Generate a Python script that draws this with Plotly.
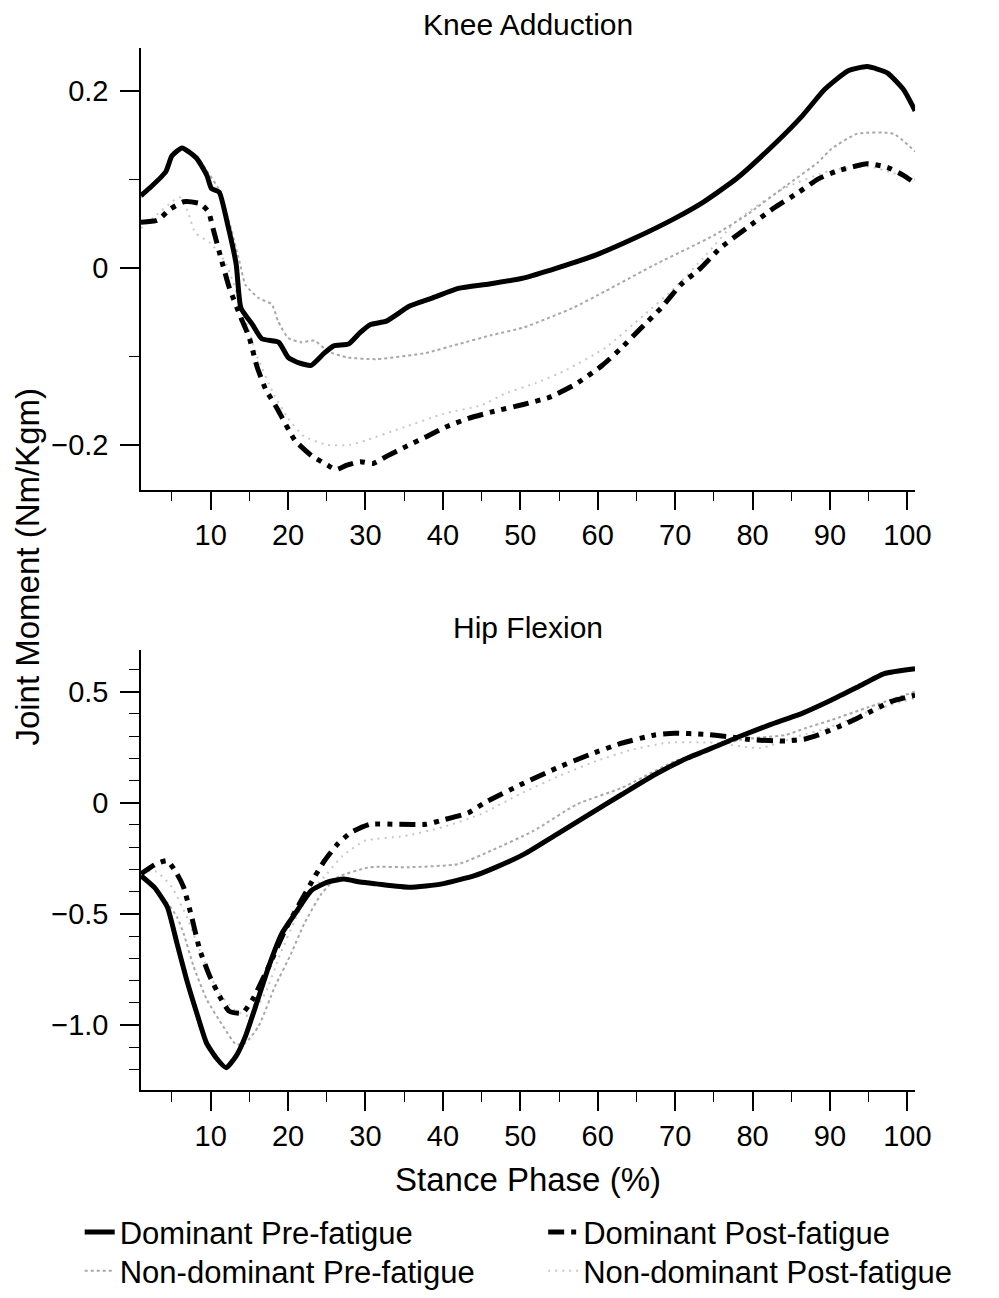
import plotly.graph_objects as go

# ---------------- data ----------------
# Knee Adduction
knee_dom_pre_x = [1, 2.3, 4.2, 5, 6.3, 8.2, 9.5, 10.1, 11.1, 12.2, 13.3, 13.9, 15.4, 16.6, 18.8, 20, 21.3, 23,
                  24.7, 25.9, 27.8, 29.3, 30.6, 32.7, 35.7, 38.6, 42, 46, 50.5, 54.7, 59.8, 64.8, 69.9, 73.7,
                  77.9, 82.2, 86.4, 89.3, 92.3, 94.8, 97.4, 99.5, 101]
knee_dom_pre_y = [0.082, 0.092, 0.109, 0.127, 0.136, 0.124, 0.105, 0.09, 0.086, 0.049, 0.004, -0.045, -0.064,
                  -0.080, -0.084, -0.101, -0.107, -0.110, -0.096, -0.088, -0.086, -0.073, -0.064, -0.060, -0.043,
                  -0.034, -0.023, -0.018, -0.011, 0.0, 0.015, 0.034, 0.056, 0.075, 0.101, 0.135, 0.172, 0.202,
                  0.223, 0.228, 0.221, 0.202, 0.178]

knee_dom_post_x = [1, 3.1, 4.8, 6.5, 8.6, 9.7, 10.3, 11.4, 12.4, 13.9, 15, 16, 17.1, 18.6, 20.9, 23, 25.1, 26.2,
                   27.6, 29.3, 31, 32.7, 35.2, 37.8, 40.3, 43.3, 46.2, 50.5, 53.8, 57.2, 60.6, 63.1, 65.7, 68.2,
                   70.7, 73.3, 75.8, 79.2, 82.6, 86, 88.5, 91, 94.8, 97.4, 99.5, 101]
knee_dom_post_y = [0.052, 0.054, 0.067, 0.075, 0.073, 0.064, 0.045, 0.009, -0.022, -0.056, -0.079, -0.112,
                   -0.137, -0.159, -0.195, -0.212, -0.223, -0.228, -0.223, -0.219, -0.221, -0.213, -0.202, -0.191,
                   -0.180, -0.170, -0.163, -0.154, -0.146, -0.131, -0.110, -0.090, -0.067, -0.045, -0.019, 0.0,
                   0.0225, 0.045, 0.067, 0.086, 0.101, 0.110, 0.118, 0.114, 0.105, 0.096]

knee_nd_pre_x = [1, 2.3, 4.2, 5, 6.3, 8.2, 9.5, 11, 12.3, 13.7, 14.5, 16.2, 17.9, 18.7, 20, 21.7, 23.4, 25.1,
                 27.6, 31.4, 37.8, 42, 46.2, 50.5, 56.8, 61, 67.4, 71.6, 75, 79.2, 84.3, 88.5, 90.2, 93.5, 98.2, 101]
knee_nd_pre_y = [0.08, 0.09, 0.11, 0.128, 0.137, 0.127, 0.11, 0.09, 0.055, 0.008, -0.019, -0.034, -0.041, -0.060,
                 -0.079, -0.084, -0.082, -0.094, -0.101, -0.103, -0.096, -0.086, -0.076, -0.067, -0.045, -0.026,
                 0.004, 0.022, 0.037, 0.06, 0.093, 0.12, 0.135, 0.152, 0.152, 0.132]

knee_nd_post_x = [1, 3, 5, 6, 7, 8, 10, 12, 14, 16, 18, 20, 22, 25, 28, 30, 35, 40, 45, 48, 52, 56, 61, 66, 70,
                  74, 78, 84, 90, 95, 98, 101]
knee_nd_post_y = [0.045, 0.06, 0.075, 0.08, 0.065, 0.04, 0.028, 0.005, -0.045, -0.1, -0.14, -0.17, -0.19, -0.2,
                  -0.2, -0.195, -0.18, -0.165, -0.155, -0.142, -0.13, -0.115, -0.09, -0.053, -0.022, 0.015,
                  0.054, 0.09, 0.11, 0.115, 0.108, 0.1]

# Hip Flexion
hip_dom_pre_x = [1, 2.7, 4.4, 5.65, 6.9, 8.2, 9.45, 10.7, 12, 13.3, 14.5, 15.8, 17.5, 19.2, 20.9, 23, 25.1, 27.2,
                 29.3, 31.4, 35.7, 39.9, 44.1, 46.2, 50.5, 54.7, 58.9, 63.1, 67.4, 71.6, 75.8, 78.3, 82.2, 86.4,
                 90.2, 93.6, 97, 101]
hip_dom_pre_y = [-0.328, -0.38, -0.469, -0.633, -0.797, -0.946, -1.08, -1.147, -1.192, -1.139, -1.05, -0.916,
                 -0.737, -0.588, -0.499, -0.395, -0.357, -0.343, -0.357, -0.365, -0.38, -0.365, -0.328, -0.30,
                 -0.231, -0.142, -0.052, 0.037, 0.127, 0.201, 0.261, 0.298, 0.35, 0.402, 0.462, 0.521, 0.581, 0.603]

hip_dom_post_x = [1, 2.9, 4.4, 5.65, 6.5, 7.55, 8.6, 9.9, 11.4, 12.4, 14.1, 15.4, 17.5, 19.6, 21.7, 23.4, 24.7,
                  26.4, 28.1, 30.6, 34.4, 37.8, 40.3, 43.3, 45.4, 50.5, 54.7, 58.9, 63.1, 67.4, 69.9, 73.7, 76.7,
                  80, 84.3, 86.8, 88.5, 91.9, 94.8, 97.8, 101]
hip_dom_post_y = [-0.32, -0.276, -0.261, -0.32, -0.38, -0.514, -0.663, -0.782, -0.886, -0.938, -0.946, -0.886,
                  -0.737, -0.574, -0.44, -0.335, -0.261, -0.186, -0.134, -0.097, -0.097, -0.097, -0.075, -0.045,
                  0.0, 0.089, 0.156, 0.216, 0.268, 0.305, 0.313, 0.308, 0.298, 0.283, 0.278, 0.287, 0.305, 0.353,
                  0.402, 0.454, 0.484]

hip_nd_pre_x = [1, 2.7, 4.4, 5.65, 6.5, 7.8, 9.5, 11.6, 13.3, 14.5, 16.2, 18.3, 20.4, 22.1, 24.3, 26.4, 30.6,
                35.7, 42, 46.2, 51.7, 57.3, 63.1, 69.9, 75, 78.3, 84.3, 86.8, 90, 95, 101]
hip_nd_pre_y = [-0.33, -0.38, -0.45, -0.514, -0.588, -0.737, -0.886, -1.005, -1.088, -1.08, -1.005, -0.827,
                -0.678, -0.543, -0.41, -0.335, -0.29, -0.29, -0.276, -0.216, -0.127, -0.007, 0.067, 0.186, 0.246,
                0.283, 0.305, 0.335, 0.37, 0.43, 0.5]

hip_nd_post_x = [1, 3, 5, 7, 9, 11, 13, 15, 17, 19, 21, 23, 25, 27, 30, 35, 40, 45, 50, 55, 60, 64.4, 69, 75,
                 81, 86, 90, 95, 101]
hip_nd_post_y = [-0.31, -0.31, -0.38, -0.52, -0.7, -0.85, -0.93, -0.96, -0.86, -0.68, -0.52, -0.4, -0.32, -0.24,
                 -0.17, -0.15, -0.11, -0.05, 0.04, 0.12, 0.19, 0.238, 0.27, 0.27, 0.246, 0.30, 0.34, 0.41, 0.47]

series_names = ["Dominant Pre-fatigue", "Dominant Post-fatigue",
                "Non-dominant Pre-fatigue", "Non-dominant Post-fatigue"]
panel_titles = ["Knee Adduction", "Hip Flexion"]
x_title = "Stance Phase (%)"
y_title = "Joint Moment (Nm/Kgm)"
x_tickvals = [10, 20, 30, 40, 50, 60, 70, 80, 90, 100]
knee_tickvals = [-0.2, 0, 0.2]
knee_ticktext = ["\u22120.2", "0", "0.2"]
hip_tickvals = [-1.0, -0.5, 0, 0.5]
hip_ticktext = ["\u22121.0", "\u22120.5", "0", "0.5"]

# ---------------- styling ----------------
W, H = 999, 1298
FONT = "Liberation Sans, Arial, Helvetica, sans-serif"
styles = [
    dict(color="black", width=5, dash="solid"),
    dict(color="black", width=5, dash="16px,7px,5px,7px,5px,7px"),
    dict(color="#a8a8a8", width=2, dash="3px,3px"),
    dict(color="#c8c8c8", width=2, dash="2px,5px"),
]

fig = go.Figure()
knee = [(knee_dom_pre_x, knee_dom_pre_y), (knee_dom_post_x, knee_dom_post_y),
        (knee_nd_pre_x, knee_nd_pre_y), (knee_nd_post_x, knee_nd_post_y)]
hip = [(hip_dom_pre_x, hip_dom_pre_y), (hip_dom_post_x, hip_dom_post_y),
       (hip_nd_pre_x, hip_nd_pre_y), (hip_nd_post_x, hip_nd_post_y)]
legends = ["legend", "legend2", "legend3", "legend4"]

# draw light lines first so black lines sit on top
order = [3, 2, 1, 0]
for i in order:
    x, y = knee[i]
    fig.add_trace(go.Scatter(x=x, y=y, mode="lines", line=dict(**styles[i], shape="spline", smoothing=0.5),
                             name=series_names[i], legend=legends[i], showlegend=True,
                             xaxis="x", yaxis="y"))
for i in order:
    x, y = hip[i]
    fig.add_trace(go.Scatter(x=x, y=y, mode="lines", line=dict(**styles[i], shape="spline", smoothing=0.5),
                             name=series_names[i], showlegend=False, xaxis="x2", yaxis="y2"))

def px_x(p):
    return p / W

def px_y(p):
    return 1 - p / H

x_dom = [px_x(143.3), px_x(930)]
axis_common = dict(showline=True, linecolor="black", linewidth=1.5, ticks="outside", ticklen=19,
                   tickwidth=1.5, tickcolor="black", showgrid=False, zeroline=False,
                   tickfont=dict(family=FONT, size=29, color="black"))
xa = dict(axis_common, range=[1, 101], tickvals=x_tickvals, domain=x_dom,
          minor=dict(ticks="outside", ticklen=10, tickwidth=1.2, tickcolor="black", dtick=5, tick0=0))

fig.update_layout(
    width=W, height=H, margin=dict(l=0, r=0, t=0, b=0),
    paper_bgcolor="white", plot_bgcolor="white",
    font=dict(family=FONT, color="black"),
    xaxis=dict(xa, anchor="y"),
    yaxis=dict(axis_common, range=[-0.2506, 0.2494], tickvals=knee_tickvals, ticktext=knee_ticktext,
               domain=[px_y(493), px_y(48)], anchor="x", ticklabelstandoff=6,
               minor=dict(ticks="outside", ticklen=10, tickwidth=1.2, tickcolor="black", dtick=0.1, tick0=0)),
    xaxis2=dict(xa, anchor="y2"),
    yaxis2=dict(axis_common, range=[-1.294, 0.685], tickvals=hip_tickvals, ticktext=hip_ticktext,
                domain=[px_y(1098), px_y(655)], anchor="x2", ticklabelstandoff=6,
                minor=dict(ticks="outside", ticklen=10, tickwidth=1.2, tickcolor="black", dtick=0.1, tick0=0)),
    showlegend=True,
)

leg_pos = [(81, 1241), (552, 1241), (81, 1280), (552, 1280)]
for name, (lx, ly) in zip(legends, leg_pos):
    fig.update_layout({name: dict(x=px_x(lx), y=px_y(ly), xanchor="left", yanchor="middle",
                                  bgcolor="rgba(0,0,0,0)", borderwidth=0,
                                  font=dict(family=FONT, size=31, color="black"))})

ann = [
    dict(text=panel_titles[0], x=px_x(536.7), y=px_y(25), size=30, angle=0),
    dict(text=panel_titles[1], x=px_x(536.7), y=px_y(632), size=30, angle=0),
    dict(text=x_title, x=px_x(536.7), y=px_y(1188), size=33, angle=0),
    dict(text=y_title, x=px_x(27), y=px_y(571), size=33, angle=-90),
]
for a in ann:
    fig.add_annotation(text=a["text"], x=a["x"], y=a["y"], xref="paper", yref="paper",
                       xanchor="center", yanchor="middle", showarrow=False, textangle=a["angle"],
                       font=dict(family=FONT, size=a["size"], color="black"))

fig.write_html("out.html")
